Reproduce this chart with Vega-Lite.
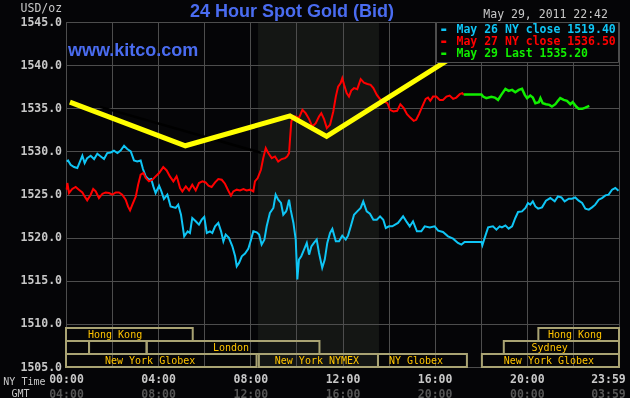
{
  "$schema": "https://vega.github.io/schema/vega-lite/v6.json",
  "width": 553,
  "height": 345,
  "autosize": {"type": "none"},
  "padding": {"left": 66, "top": 22, "right": 11, "bottom": 31},
  "background": "#050507",
  "config": {"view": {"stroke": "#4d4d4d", "strokeWidth": 1}, "font": "DejaVu Sans Mono"},
  "title": {"text": "24 Hour Spot Gold (Bid)", "anchor": "start", "dx": 124, "dy": 37, "font": "Liberation Sans", "fontSize": 18, "fontWeight": "bold", "color": "#4a6cf0", "baseline": "alphabetic", "offset": 5, "frame": "group"},
  "datasets": {
    "may26": [
      {"h":0.03,"v":1528.83},{"h":0.09,"v":1528.95},{"h":0.20,"v":1528.45},{"h":0.35,"v":1528.18},{"h":0.49,"v":1528.07},{"h":0.61,"v":1528.83},{"h":0.71,"v":1529.49},{"h":0.81,"v":1528.65},{"h":0.92,"v":1529.22},{"h":1.07,"v":1529.49},{"h":1.22,"v":1529.11},{"h":1.36,"v":1529.72},{"h":1.51,"v":1529.41},{"h":1.65,"v":1529.11},{"h":1.79,"v":1529.80},{"h":1.94,"v":1529.87},{"h":2.08,"v":1530.07},{"h":2.23,"v":1529.80},{"h":2.37,"v":1530.10},{"h":2.52,"v":1530.65},{"h":2.66,"v":1530.27},{"h":2.81,"v":1529.99},{"h":2.95,"v":1528.95},{"h":3.09,"v":1528.83},{"h":3.24,"v":1528.95},{"h":3.34,"v":1527.95},{"h":3.46,"v":1527.10},{"h":3.60,"v":1526.71},{"h":3.70,"v":1526.79},{"h":3.79,"v":1525.94},{"h":3.89,"v":1525.17},{"h":4.04,"v":1526.02},{"h":4.14,"v":1525.36},{"h":4.25,"v":1524.48},{"h":4.40,"v":1524.98},{"h":4.54,"v":1523.62},{"h":4.76,"v":1523.44},{"h":4.87,"v":1523.82},{"h":4.99,"v":1522.66},{"h":5.13,"v":1520.15},{"h":5.28,"v":1520.73},{"h":5.38,"v":1520.54},{"h":5.48,"v":1522.28},{"h":5.63,"v":1521.89},{"h":5.77,"v":1521.50},{"h":5.89,"v":1522.08},{"h":6.00,"v":1522.40},{"h":6.11,"v":1520.54},{"h":6.25,"v":1520.73},{"h":6.35,"v":1520.54},{"h":6.47,"v":1521.31},{"h":6.61,"v":1521.70},{"h":6.73,"v":1520.73},{"h":6.83,"v":1519.57},{"h":6.93,"v":1520.35},{"h":7.07,"v":1519.97},{"h":7.22,"v":1518.99},{"h":7.34,"v":1517.84},{"h":7.41,"v":1516.68},{"h":7.51,"v":1517.07},{"h":7.63,"v":1517.84},{"h":7.77,"v":1518.15},{"h":7.91,"v":1518.69},{"h":8.03,"v":1519.77},{"h":8.13,"v":1520.73},{"h":8.28,"v":1520.61},{"h":8.38,"v":1520.35},{"h":8.49,"v":1519.19},{"h":8.61,"v":1519.77},{"h":8.71,"v":1521.31},{"h":8.85,"v":1522.86},{"h":9.00,"v":1523.44},{"h":9.10,"v":1524.98},{"h":9.21,"v":1524.40},{"h":9.33,"v":1524.02},{"h":9.43,"v":1522.66},{"h":9.55,"v":1523.04},{"h":9.58,"v":1523.24},{"h":9.68,"v":1524.40},{"h":9.75,"v":1523.24},{"h":9.87,"v":1521.70},{"h":9.97,"v":1519.77},{"h":10.04,"v":1515.14},{"h":10.11,"v":1517.45},{"h":10.21,"v":1517.84},{"h":10.33,"v":1518.61},{"h":10.45,"v":1519.39},{"h":10.55,"v":1518.03},{"h":10.65,"v":1518.99},{"h":10.76,"v":1519.39},{"h":10.88,"v":1519.77},{"h":10.98,"v":1518.23},{"h":11.12,"v":1516.49},{"h":11.23,"v":1517.45},{"h":11.34,"v":1519.39},{"h":11.46,"v":1520.54},{"h":11.56,"v":1521.01},{"h":11.71,"v":1519.57},{"h":11.85,"v":1519.57},{"h":11.99,"v":1520.23},{"h":12.14,"v":1519.77},{"h":12.24,"v":1520.23},{"h":12.36,"v":1521.31},{"h":12.50,"v":1522.66},{"h":12.64,"v":1523.04},{"h":12.79,"v":1523.44},{"h":12.90,"v":1524.20},{"h":13.05,"v":1523.04},{"h":13.19,"v":1522.78},{"h":13.34,"v":1522.08},{"h":13.49,"v":1522.08},{"h":13.63,"v":1522.47},{"h":13.77,"v":1522.08},{"h":13.88,"v":1521.12},{"h":14.02,"v":1521.31},{"h":14.16,"v":1521.31},{"h":14.41,"v":1521.70},{"h":14.63,"v":1522.47},{"h":14.77,"v":1521.89},{"h":14.92,"v":1521.31},{"h":15.06,"v":1521.89},{"h":15.23,"v":1520.73},{"h":15.42,"v":1520.73},{"h":15.57,"v":1521.31},{"h":15.79,"v":1521.19},{"h":16.00,"v":1521.31},{"h":16.15,"v":1520.81},{"h":16.36,"v":1520.66},{"h":16.58,"v":1520.15},{"h":16.80,"v":1519.88},{"h":17.01,"v":1519.39},{"h":17.16,"v":1519.19},{"h":17.30,"v":1519.50},{"h":17.66,"v":1519.50},{"h":18.03,"v":1519.50},{"h":18.07,"v":1519.11},{"h":18.17,"v":1519.97},{"h":18.32,"v":1521.19},{"h":18.53,"v":1521.31},{"h":18.68,"v":1520.93},{"h":18.82,"v":1521.31},{"h":18.92,"v":1521.19},{"h":19.07,"v":1521.42},{"h":19.21,"v":1521.04},{"h":19.36,"v":1521.31},{"h":19.50,"v":1522.28},{"h":19.62,"v":1522.97},{"h":19.79,"v":1523.04},{"h":19.94,"v":1523.44},{"h":20.05,"v":1524.02},{"h":20.15,"v":1523.82},{"h":20.26,"v":1524.20},{"h":20.37,"v":1523.62},{"h":20.49,"v":1523.36},{"h":20.66,"v":1523.51},{"h":20.83,"v":1524.28},{"h":21.02,"v":1524.59},{"h":21.21,"v":1524.20},{"h":21.35,"v":1524.78},{"h":21.50,"v":1524.66},{"h":21.64,"v":1524.20},{"h":21.82,"v":1524.51},{"h":21.96,"v":1524.51},{"h":22.10,"v":1524.66},{"h":22.25,"v":1524.28},{"h":22.40,"v":1524.02},{"h":22.54,"v":1523.36},{"h":22.69,"v":1523.24},{"h":22.83,"v":1523.51},{"h":22.97,"v":1523.82},{"h":23.12,"v":1524.40},{"h":23.26,"v":1524.59},{"h":23.41,"v":1524.90},{"h":23.55,"v":1524.98},{"h":23.70,"v":1525.56},{"h":23.84,"v":1525.75},{"h":23.98,"v":1525.44}
    ],
    "may27": [
      {"h":0.03,"v":1525.56},{"h":0.06,"v":1526.33},{"h":0.13,"v":1525.17},{"h":0.27,"v":1525.64},{"h":0.42,"v":1525.87},{"h":0.56,"v":1525.56},{"h":0.71,"v":1525.24},{"h":0.81,"v":1524.78},{"h":0.92,"v":1524.32},{"h":1.07,"v":1524.98},{"h":1.18,"v":1525.64},{"h":1.29,"v":1525.36},{"h":1.43,"v":1524.59},{"h":1.58,"v":1525.09},{"h":1.72,"v":1525.24},{"h":1.87,"v":1525.17},{"h":2.01,"v":1524.98},{"h":2.16,"v":1525.24},{"h":2.30,"v":1525.24},{"h":2.44,"v":1524.98},{"h":2.59,"v":1524.40},{"h":2.69,"v":1523.62},{"h":2.78,"v":1523.16},{"h":2.88,"v":1523.82},{"h":3.03,"v":1524.78},{"h":3.13,"v":1526.13},{"h":3.24,"v":1527.29},{"h":3.36,"v":1527.49},{"h":3.46,"v":1526.91},{"h":3.60,"v":1526.52},{"h":3.75,"v":1526.71},{"h":3.89,"v":1527.10},{"h":4.04,"v":1527.49},{"h":4.22,"v":1528.18},{"h":4.37,"v":1527.79},{"h":4.51,"v":1527.10},{"h":4.66,"v":1526.52},{"h":4.80,"v":1527.10},{"h":4.85,"v":1526.71},{"h":4.95,"v":1525.75},{"h":5.05,"v":1525.36},{"h":5.20,"v":1525.94},{"h":5.34,"v":1525.47},{"h":5.48,"v":1526.13},{"h":5.63,"v":1525.47},{"h":5.77,"v":1526.33},{"h":5.92,"v":1526.52},{"h":6.06,"v":1526.40},{"h":6.18,"v":1526.02},{"h":6.32,"v":1525.87},{"h":6.47,"v":1526.40},{"h":6.61,"v":1526.79},{"h":6.76,"v":1526.71},{"h":6.90,"v":1526.25},{"h":7.04,"v":1525.47},{"h":7.16,"v":1524.86},{"h":7.26,"v":1525.36},{"h":7.41,"v":1525.56},{"h":7.55,"v":1525.47},{"h":7.70,"v":1525.64},{"h":7.84,"v":1525.47},{"h":7.99,"v":1525.56},{"h":8.13,"v":1525.36},{"h":8.20,"v":1526.52},{"h":8.32,"v":1526.91},{"h":8.46,"v":1527.87},{"h":8.56,"v":1529.22},{"h":8.67,"v":1530.38},{"h":8.78,"v":1529.80},{"h":8.93,"v":1529.22},{"h":9.07,"v":1529.41},{"h":9.21,"v":1528.83},{"h":9.36,"v":1529.11},{"h":9.51,"v":1529.22},{"h":9.60,"v":1529.41},{"h":9.68,"v":1529.80},{"h":9.72,"v":1531.34},{"h":9.78,"v":1533.46},{"h":9.87,"v":1534.04},{"h":9.97,"v":1534.04},{"h":10.11,"v":1533.85},{"h":10.26,"v":1534.81},{"h":10.40,"v":1534.43},{"h":10.55,"v":1533.74},{"h":10.69,"v":1532.88},{"h":10.84,"v":1533.28},{"h":10.98,"v":1534.04},{"h":11.08,"v":1534.43},{"h":11.20,"v":1533.74},{"h":11.32,"v":1532.70},{"h":11.46,"v":1533.08},{"h":11.60,"v":1534.62},{"h":11.71,"v":1536.35},{"h":11.81,"v":1537.51},{"h":11.92,"v":1537.91},{"h":11.99,"v":1538.48},{"h":12.07,"v":1537.71},{"h":12.18,"v":1536.75},{"h":12.28,"v":1536.35},{"h":12.38,"v":1537.05},{"h":12.50,"v":1537.33},{"h":12.64,"v":1537.21},{"h":12.79,"v":1538.37},{"h":12.93,"v":1537.97},{"h":13.08,"v":1537.82},{"h":13.22,"v":1537.71},{"h":13.34,"v":1537.33},{"h":13.49,"v":1536.55},{"h":13.63,"v":1536.05},{"h":13.80,"v":1535.78},{"h":13.95,"v":1535.59},{"h":14.06,"v":1534.81},{"h":14.21,"v":1534.62},{"h":14.37,"v":1534.70},{"h":14.51,"v":1535.47},{"h":14.66,"v":1535.01},{"h":14.80,"v":1534.32},{"h":14.94,"v":1533.92},{"h":15.09,"v":1533.54},{"h":15.20,"v":1533.66},{"h":15.32,"v":1534.32},{"h":15.46,"v":1535.20},{"h":15.61,"v":1536.09},{"h":15.71,"v":1536.24},{"h":15.81,"v":1535.86},{"h":15.93,"v":1536.35},{"h":16.07,"v":1536.35},{"h":16.22,"v":1535.97},{"h":16.36,"v":1535.97},{"h":16.51,"v":1536.35},{"h":16.65,"v":1536.47},{"h":16.80,"v":1536.09},{"h":16.94,"v":1536.24},{"h":17.09,"v":1536.63},{"h":17.20,"v":1536.75},{"h":17.26,"v":1536.55}
    ],
    "may29": [
      {"h":17.26,"v":1536.60},{"h":18.03,"v":1536.60},{"h":18.10,"v":1536.35},{"h":18.24,"v":1536.17},{"h":18.46,"v":1536.32},{"h":18.61,"v":1536.24},{"h":18.75,"v":1535.97},{"h":18.89,"v":1536.55},{"h":19.07,"v":1537.25},{"h":19.21,"v":1537.01},{"h":19.36,"v":1537.13},{"h":19.50,"v":1536.86},{"h":19.65,"v":1537.13},{"h":19.79,"v":1537.25},{"h":19.91,"v":1536.55},{"h":20.01,"v":1536.17},{"h":20.15,"v":1536.47},{"h":20.26,"v":1536.24},{"h":20.37,"v":1535.59},{"h":20.52,"v":1535.71},{"h":20.59,"v":1536.17},{"h":20.69,"v":1535.59},{"h":20.83,"v":1535.47},{"h":20.98,"v":1535.39},{"h":21.09,"v":1535.20},{"h":21.24,"v":1535.47},{"h":21.35,"v":1535.86},{"h":21.45,"v":1536.17},{"h":21.60,"v":1535.97},{"h":21.74,"v":1535.86},{"h":21.89,"v":1535.47},{"h":21.99,"v":1535.71},{"h":22.14,"v":1535.20},{"h":22.25,"v":1534.93},{"h":22.40,"v":1534.93},{"h":22.54,"v":1535.08},{"h":22.71,"v":1535.28}
    ],
    "trend": [
      {"h":0.17,"v":1535.7},{"h":5.18,"v":1530.65},{"h":9.72,"v":1534.12},{"h":11.31,"v":1531.73},{"h":16.67,"v":1540.75}
    ],
    "shadow": [
      {"h":1.48,"v":1535.16},{"h":8.46,"v":1529.84}
    ],
    "sessions": [
      {"label":"Hong Kong","start":0,"end":5.5,"r0":2,"r1":3,"label_at":2.13},
      {"label":"Hong Kong","start":20.5,"end":24,"r0":2,"r1":3,"label_at":22.09},
      {"label":"","start":0,"end":1.0,"r0":1,"r1":2,"label_at":null},
      {"label":"","start":1.0,"end":3.5,"r0":1,"r1":2,"label_at":null},
      {"label":"London","start":3.5,"end":11,"r0":1,"r1":2,"label_at":7.16},
      {"label":"Sydney","start":19,"end":24,"r0":1,"r1":2,"label_at":20.99},
      {"label":"New York Globex","start":0,"end":8.27,"r0":0,"r1":1,"label_at":3.65},
      {"label":"New York NYMEX","start":8.37,"end":13.54,"r0":0,"r1":1,"label_at":10.89},
      {"label":"NY Globex","start":13.54,"end":17.4,"r0":0,"r1":1,"label_at":15.19},
      {"label":"New York Globex","start":18.05,"end":24,"r0":0,"r1":1,"label_at":20.96}
    ]
  },
  "layer": [
    {
      "layer": [
        {
          "data": {"values": [{}]},
          "mark": {"type": "rect", "color": "#141614", "blend": "lighten"},
          "encoding": {
            "x": {"datum": 8.333, "type": "quantitative", "scale": {"domain": [0, 24], "nice": false, "zero": false}},
            "x2": {"datum": 13.583}
          }
        },
        {
          "data": {"name": "may26"},
          "mark": {"type": "line", "strokeWidth": 2},
          "encoding": {
            "x": {"field": "h", "type": "quantitative", "scale": {"domain": [0, 24], "nice": false, "zero": false},
              "axis": {
                "orient": "bottom",
                "values": [0, 2, 4, 6, 8, 10, 12, 14, 16, 18, 20, 22, 23.52],
                "labelExpr": "datum.value > 23 ? '23:59' : (datum.value % 4 == 0 ? (datum.value < 10 ? '0' : '') + datum.value + ':00' : '')",
                "labelFlush": false, "labelOverlap": false,
                "grid": true,
                "gridColor": {"condition": {"test": "datum.value > 23", "value": "transparent"}, "value": "#4d4d4d"},
                "domain": false, "ticks": false, "labelPadding": 6,
                "labelFont": "DejaVu Sans Mono", "labelFontSize": 11.5, "labelFontWeight": "bold", "labelColor": "#c8c8c8",
                "title": "NY Time", "titleX": -21, "titleY": 17, "titleAlign": "right", "titleBaseline": "alphabetic",
                "titleFont": "DejaVu Sans Mono", "titleFontSize": 10, "titleFontWeight": "normal", "titleColor": "#c8c8c8"
              }
            },
            "y": {"field": "v", "type": "quantitative", "scale": {"domain": [1505, 1545], "nice": false, "zero": false},
              "axis": {
                "values": [1505, 1510, 1515, 1520, 1525, 1530, 1535, 1540, 1545],
                "format": ".1f", "grid": true, "gridColor": "#4d4d4d", "domain": false, "ticks": false, "labelPadding": 4.5,
                "labelFont": "DejaVu Sans Mono", "labelFontSize": 11.5, "labelFontWeight": "bold", "labelColor": "#c8c8c8",
                "title": null
              }
            },
            "color": {"datum": "May 26 NY close 1519.40", "type": "nominal",
              "scale": {"domain": ["May 26 NY close 1519.40", "May 27 NY close 1536.50", "May 29 Last 1535.20"], "range": ["#0fc5f5", "#ff0000", "#11ee00"]},
              "legend": {
                "orient": "none", "legendX": 370, "legendY": 0, "title": null,
                "fillColor": "#050507", "strokeColor": "#4d4d4d", "padding": 2,
                "symbolType": "stroke", "symbolSize": 25, "symbolStrokeWidth": 2.5,
                "labelFont": "DejaVu Sans Mono", "labelFontSize": 11.5, "labelFontWeight": "bold", "labelLimit": 300,
                "rowPadding": -1.5, "labelOffset": 7,
                "encode": {"labels": {"update": {"fill": {"scale": "color", "field": "value"}}}}
              }
            }
          }
        },
        {
          "data": {"name": "may27"},
          "mark": {"type": "line", "strokeWidth": 2},
          "encoding": {
            "x": {"field": "h", "type": "quantitative"},
            "y": {"field": "v", "type": "quantitative"},
            "color": {"datum": "May 27 NY close 1536.50", "type": "nominal"}
          }
        },
        {
          "data": {"name": "may29"},
          "mark": {"type": "line", "strokeWidth": 2.5},
          "encoding": {
            "x": {"field": "h", "type": "quantitative"},
            "y": {"field": "v", "type": "quantitative"},
            "color": {"datum": "May 29 Last 1535.20", "type": "nominal"}
          }
        },
        {
          "data": {"name": "shadow"},
          "mark": {"type": "line", "strokeWidth": 2.5, "color": "#000000"},
          "encoding": {
            "x": {"field": "h", "type": "quantitative"},
            "y": {"field": "v", "type": "quantitative"}
          }
        },
        {
          "data": {"name": "trend"},
          "mark": {"type": "line", "strokeWidth": 5, "color": "#ffff00"},
          "encoding": {
            "x": {"field": "h", "type": "quantitative"},
            "y": {"field": "v", "type": "quantitative"}
          }
        },
        {
          "data": {"values": [{"t": "www.kitco.com"}]},
          "mark": {"type": "text", "font": "Liberation Sans", "fontSize": 18, "fontWeight": "bold", "color": "#4a6cf0", "align": "left", "baseline": "alphabetic"},
          "encoding": {
            "x": {"datum": 0.087, "type": "quantitative"},
            "y": {"datum": 1541.1, "type": "quantitative"},
            "text": {"field": "t"}
          }
        },
        {
          "data": {"values": [{"t": "May 29, 2011 22:42"}]},
          "mark": {"type": "text", "font": "DejaVu Sans Mono", "fontSize": 11.5, "color": "#c8c8c8", "align": "right", "baseline": "alphabetic"},
          "encoding": {
            "x": {"datum": 23.52, "type": "quantitative"},
            "y": {"datum": 1545.43, "type": "quantitative"},
            "text": {"field": "t"}
          }
        },
        {
          "data": {"values": [{"t": "USD/oz"}]},
          "mark": {"type": "text", "font": "DejaVu Sans Mono", "fontSize": 11.5, "color": "#c8c8c8", "align": "right", "baseline": "alphabetic"},
          "encoding": {
            "x": {"datum": -0.17, "type": "quantitative"},
            "y": {"datum": 1546.19, "type": "quantitative"},
            "text": {"field": "t"}
          }
        }
      ]
    },
    {
      "layer": [
        {
          "data": {"name": "sessions"},
          "mark": {"type": "rect", "fill": "transparent", "stroke": "#a9a373", "strokeWidth": 2},
          "encoding": {
            "x": {"field": "start", "type": "quantitative", "scale": {"domain": [0, 24], "nice": false, "zero": false},
              "axis": {
                "orient": "bottom",
                "values": [0, 4, 8, 12, 16, 20, 23.52],
                "labelExpr": "datum.value > 23 ? '03:59' : (((datum.value + 4) % 24) < 10 ? '0' : '') + ((datum.value + 4) % 24) + ':00'",
                "labelFlush": false, "labelOverlap": false, "grid": false, "domain": false, "ticks": false, "labelPadding": 21,
                "labelFont": "DejaVu Sans Mono", "labelFontSize": 11.5, "labelFontWeight": "bold", "labelColor": "#555555",
                "title": "GMT", "titleX": -37, "titleY": 29, "titleAlign": "right", "titleBaseline": "alphabetic",
                "titleFont": "DejaVu Sans Mono", "titleFontSize": 10, "titleFontWeight": "normal", "titleColor": "#c8c8c8"
              }
            },
            "x2": {"field": "end"},
            "y": {"field": "r0", "type": "quantitative", "scale": {"domain": [0, 26.538], "nice": false, "zero": false}, "axis": null},
            "y2": {"field": "r1"}
          }
        },
        {
          "data": {"name": "sessions"},
          "transform": [{"filter": "datum.label != ''"}],
          "mark": {"type": "text", "font": "DejaVu Sans Mono", "fontSize": 10, "color": "#ffc400", "align": "center", "baseline": "alphabetic", "dy": -3},
          "encoding": {
            "x": {"field": "label_at", "type": "quantitative"},
            "y": {"field": "r0", "type": "quantitative"},
            "text": {"field": "label"}
          }
        }
      ]
    }
  ],
  "resolve": {"scale": {"y": "independent"}, "axis": {"x": "independent", "y": "independent"}}
}
